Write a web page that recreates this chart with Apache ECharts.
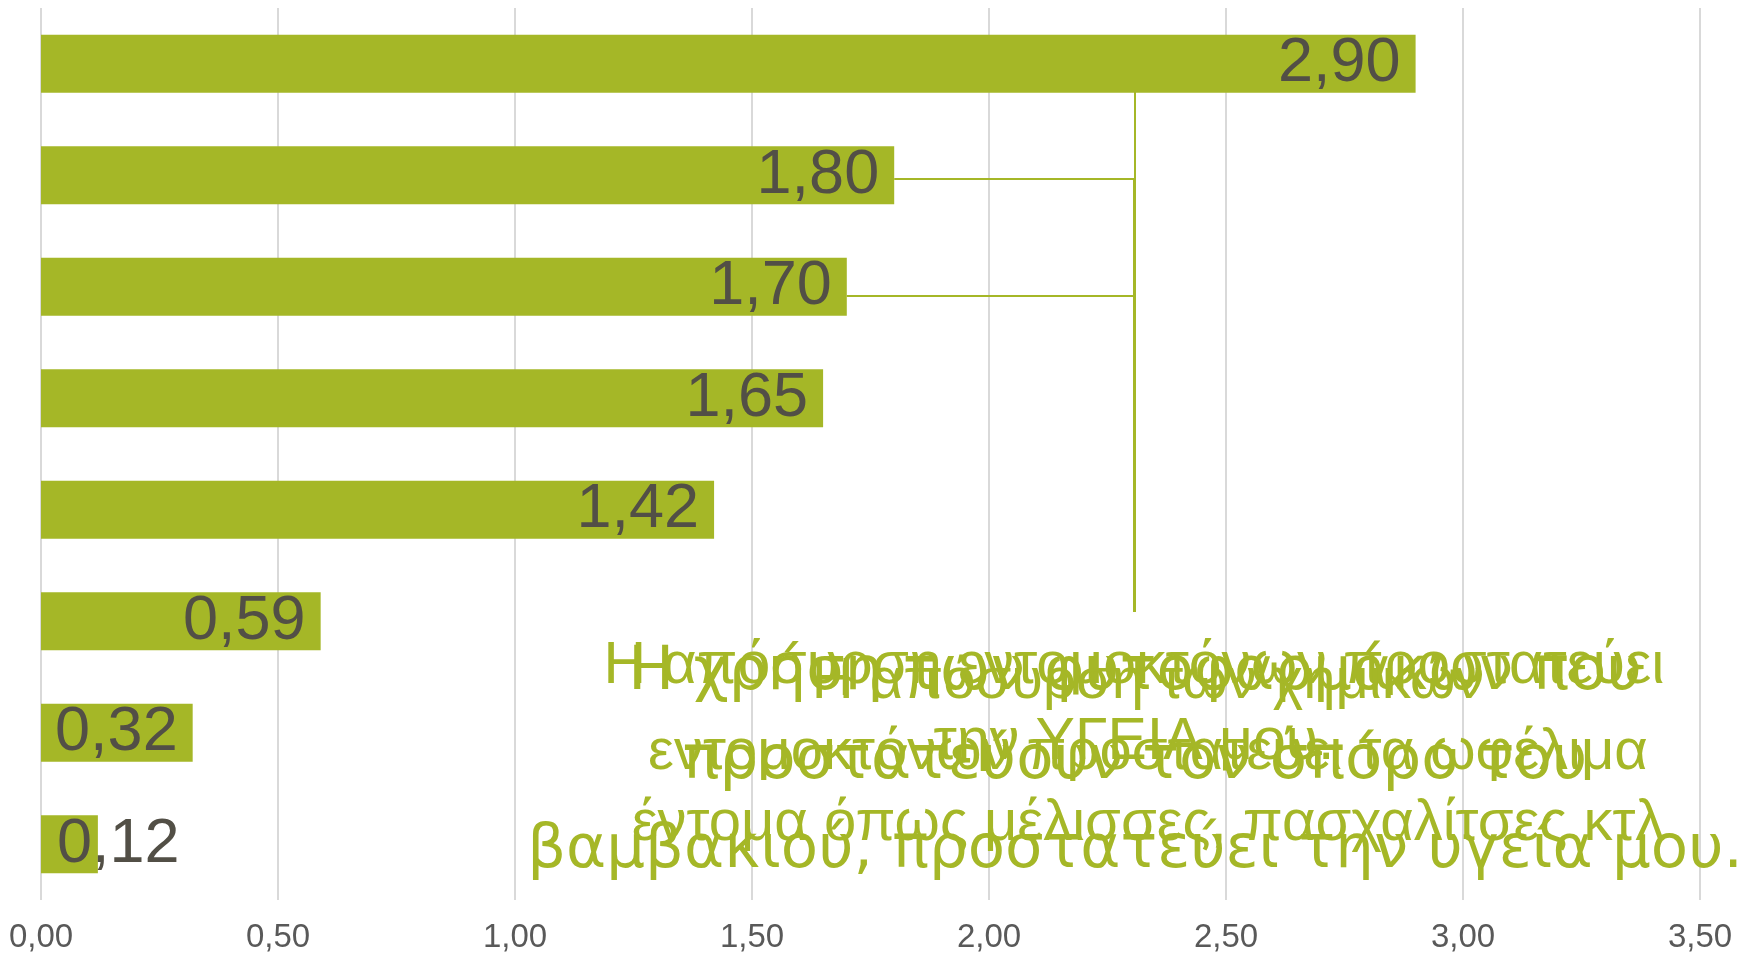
<!DOCTYPE html>
<html>
<head>
<meta charset="utf-8">
<script src="https://cdn.jsdelivr.net/npm/echarts@6/dist/echarts.min.js"></script>
<style>
  html, body { margin: 0; padding: 0; background: #ffffff; }
  #chart { width: 1754px; height: 955px; }
</style>
</head>
<body>
<div id="chart"></div>
<script>
// Ranked statements (top to bottom) and their mean scores
const categories = ['1', '2', '3', '4', '5', '6', '7', '8'];
const values = [2.90, 1.80, 1.70, 1.65, 1.42, 0.59, 0.32, 0.12];

// Statement texts shown as callouts for the leading bars
const statementLabels = [
  'Η χρήση των φυτοφαρμάκων που\nπροστατεύουν τον σπόρο του\nβαμβακιού, προστατεύει την υγεία μου.',
  'Η απόσυρση εντομοκτόνων προστατεύει\nτην ΥΓΕΙΑ μου.',
  'Η απόσυρση των χημικών\nεντομοκτόνων προστατεύει τα ωφέλιμα\nέντομα όπως μέλισσες, πασχαλίτσες κτλ',
  '', '', '', '', ''
];

// Value axis range
const axisMin = 0;
const axisMax = 3.5;
const axisStep = 0.5;

// ---- styling ----
const GREEN = '#a5b727';
const VALUE_TEXT = '#524f46';
const GRID_GRAY = '#d9d9d9';
const CALLOUT_TOP = 612;
// padL shifts the text right inside its box while the guide keeps to the box centre
const calloutStyles = [
  { font: 'DejaVu Sans', size: 61, lh: 89, x: 1135, pad: 17, padL: 0, len: 530 },
  { font: 'Liberation Sans', size: 59, lh: 76, x: 1134, pad: 17, padL: 0, len: 433 },
  { font: 'Liberation Sans', size: 58, lh: 71, x: 1134, pad: 34, padL: 28, len: 316 }
];

const fmt = v => v.toFixed(2).replace('.', ',');

const valueData = values.map(v => {
  const item = { value: v };
  // the shortest bar cannot hold its label, so it starts at the bar base
  if (v < 0.2) item.label = { position: 'insideLeft', distance: 16 };
  return item;
});

const calloutData = values.map((v, i) => {
  const text = statementLabels[i];
  if (!text) return { value: v, label: { show: false } };
  const s = calloutStyles[i];
  return {
    value: v,
    label: {
      show: true,
      formatter: text,
      fontFamily: s.font,
      fontSize: s.size,
      lineHeight: s.lh,
      color: GREEN,
      align: 'center',
      padding: [s.pad, 0, 0, s.padL],
      backgroundColor: 'transparent'
    },
    labelLine: {
      show: true,
      length2: s.len,
      lineStyle: { color: GREEN, width: 2 }
    }
  };
});

const chart = echarts.init(document.getElementById('chart'), null, { renderer: 'canvas' });

chart.setOption({
  animation: false,
  backgroundColor: '#ffffff',
  grid: { left: 41, right: 54, top: 8, bottom: 55, containLabel: false },
  xAxis: {
    type: 'value',
    min: axisMin,
    max: axisMax,
    interval: axisStep,
    axisLine: { show: false },
    axisTick: { show: false },
    splitLine: { show: true, lineStyle: { color: GRID_GRAY, width: 2 } },
    axisLabel: {
      fontFamily: 'Liberation Sans',
      fontSize: 33,
      color: '#595959',
      margin: 21,
      formatter: fmt
    }
  },
  yAxis: {
    type: 'category',
    data: categories,
    inverse: true,
    axisLine: { show: false },
    axisTick: { show: false },
    axisLabel: { show: false },
    splitLine: { show: false }
  },
  series: [
    {
      type: 'bar',
      data: valueData,
      barWidth: '52%',
      itemStyle: { color: GREEN },
      label: {
        show: true,
        position: 'insideRight',
        distance: 15,
        fontFamily: 'Liberation Sans',
        fontSize: 63,
        color: VALUE_TEXT,
        formatter: p => fmt(p.value)
      },
      silent: true,
      z: 2
    },
    {
      type: 'bar',
      data: calloutData,
      barWidth: '52%',
      barGap: '-100%',
      itemStyle: { color: 'rgba(0,0,0,0)' },
      silent: true,
      z: 3,
      labelLayout: params => {
        const s = calloutStyles[params.dataIndex];
        if (!s) return {};
        return { x: s.x, y: CALLOUT_TOP, align: 'center', verticalAlign: 'top' };
      }
    }
  ]
});
</script>
</body>
</html>
